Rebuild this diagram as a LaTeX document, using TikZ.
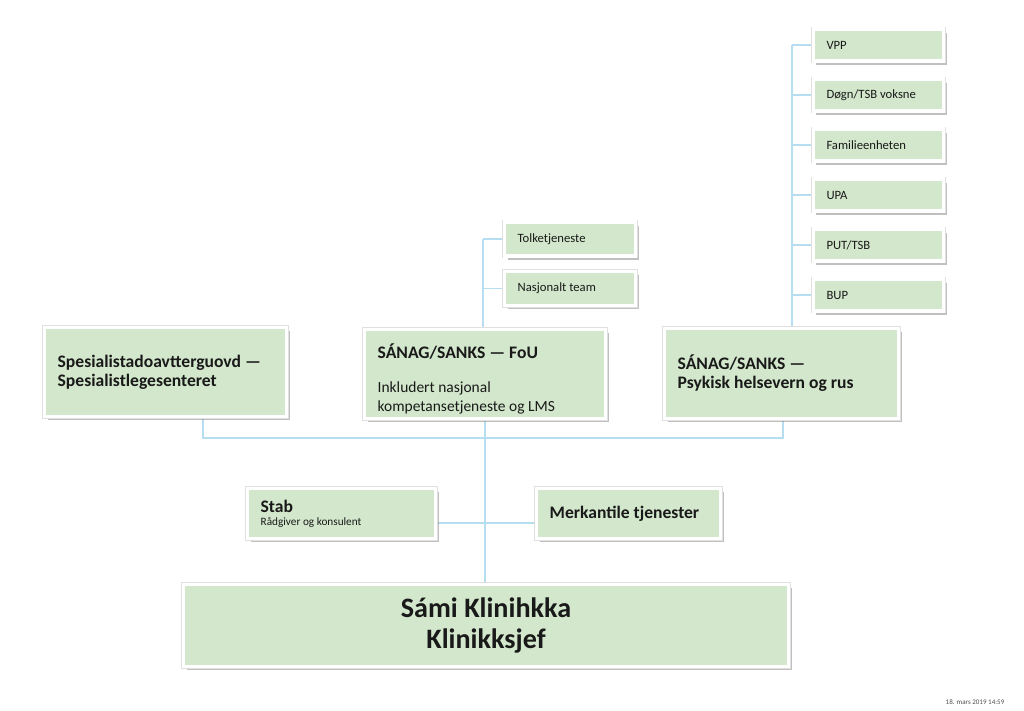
\documentclass[tikz,border=0pt]{standalone}
\usepackage{fontspec}
\setmainfont{Carlito}
\usetikzlibrary{positioning, shadows, backgrounds}
\definecolor{boxgreen}{RGB}{210,231,203}
\definecolor{linkblue}{RGB}{183,221,240}
\definecolor{inktext}{RGB}{25,25,25}
\tikzset{
  unit/.style={rectangle, fill=boxgreen, draw=white, line width=2.2pt,
    drop shadow={shadow xshift=2.2pt, shadow yshift=-2.8pt, fill=black!55, opacity=0.45},
    preaction={draw=black!12, line width=3.4pt},
    text=inktext, inner xsep=0.33cm, inner ysep=2pt,
    execute at begin node={\spaceskip=0pt\xspaceskip=0pt\relax}},
  bigunit/.style={unit, align=left, font=\fontsize{12.5}{13.5}\selectfont\bfseries, minimum height=2.225cm},
  smallunit/.style={unit, align=left, font=\fontsize{9}{10}\selectfont, text width=2.6cm, minimum height=0.8cm},
  link/.style={draw=linkblue, line width=1.3pt}
}
\begin{document}
\begin{tikzpicture}[x=0.025cm, y=-0.025cm]
  \useasboundingbox (0,0) rectangle (1024,710);

  % Hovedenheter
  \node[bigunit, text width=5.39cm] (spes) at (165.5,372)
    {Spesialistadoavtterguovd —\\Spesialistlegesenteret\\[6pt]};
  \node[bigunit, text width=5.365cm] (fou) at (485,374)
    {\rule{0pt}{18pt}SÁNAG/SANKS — FoU\\[11pt]{\fontsize{11}{13}\selectfont\mdseries Inkludert nasjonal\\kompetansetjeneste og LMS}};
  \node[bigunit, text width=5.19cm, minimum height=2.25cm] (psy) at (781.5,373.5)
    {SÁNAG/SANKS —\\Psykisk helsevern og rus};

  % Underenheter FoU
  \node[smallunit, text width=2.615cm, minimum height=0.85cm] (tolk) at (570,239) {Tolketjeneste};
  \node[smallunit, text width=2.615cm, minimum height=0.85cm] (nasj) at (570,288.5) {Nasjonalt team};

  % Underenheter psykisk helsevern
  \foreach \t [count=\i] in {VPP, {Døgn/TSB voksne}, Familieenheten, UPA, {PUT/TSB}, BUP}
    \node[smallunit] (psy\i) at (878.5,-5+50*\i) {\t};

  % Stab og klinikkledelse
  \node[unit, align=left, text width=4.04cm, minimum height=1.25cm, font=\fontsize{8}{9}\selectfont] (stab) at (341.5,513.5)
    {{\fontsize{12.5}{13}\selectfont\bfseries Stab}\\Rådgiver og konsulent};
  \node[unit, align=left, text width=3.94cm, minimum height=1.25cm, font=\fontsize{12.5}{13.5}\selectfont\bfseries] (merk) at (628.5,513.5)
    {Merkantile tjenester\\[5pt]};
  \node[unit, align=center, minimum width=15.125cm, minimum height=2.05cm, font=\fontsize{20}{22}\selectfont\bfseries] (klinikk) at (486,625.5)
    {Sámi Klinihkka\\Klinikksjef};

  \node[font=\fontsize{5}{6}\selectfont, text=black!70] (stamp) at (975,702) {18. mars 2019 14:59};

  % Linjer
  \coordinate (psyrail) at (792,0);
  \coordinate (fourail) at (483,0);
  \coordinate (busL) at (203,438);
  \coordinate (busR) at (783,438);
  \coordinate (staffline) at (0,523);
  \begin{scope}[on background layer]
    \draw[link] (psy1.west -| psyrail) -- (psy.north -| psyrail);
    \foreach \i in {1,...,6}
      \draw[link] (psy\i.west) -- (psy\i.west -| psyrail);
    \draw[link] (tolk.west -| fourail) -- (fou.north -| fourail);
    \draw[link] (tolk.west) -- (tolk.west -| fourail);
    \draw[link] (nasj.west) -- (nasj.west -| fourail);
    \draw[link] (spes.south -| busL) |- (busR) -- (psy.south -| busR);
    \draw[link] (fou.south) -- (fou.south |- klinikk.north);
    \draw[link] (stab.east |- staffline) -- (merk.west |- staffline);
  \end{scope}
\end{tikzpicture}
\end{document}
